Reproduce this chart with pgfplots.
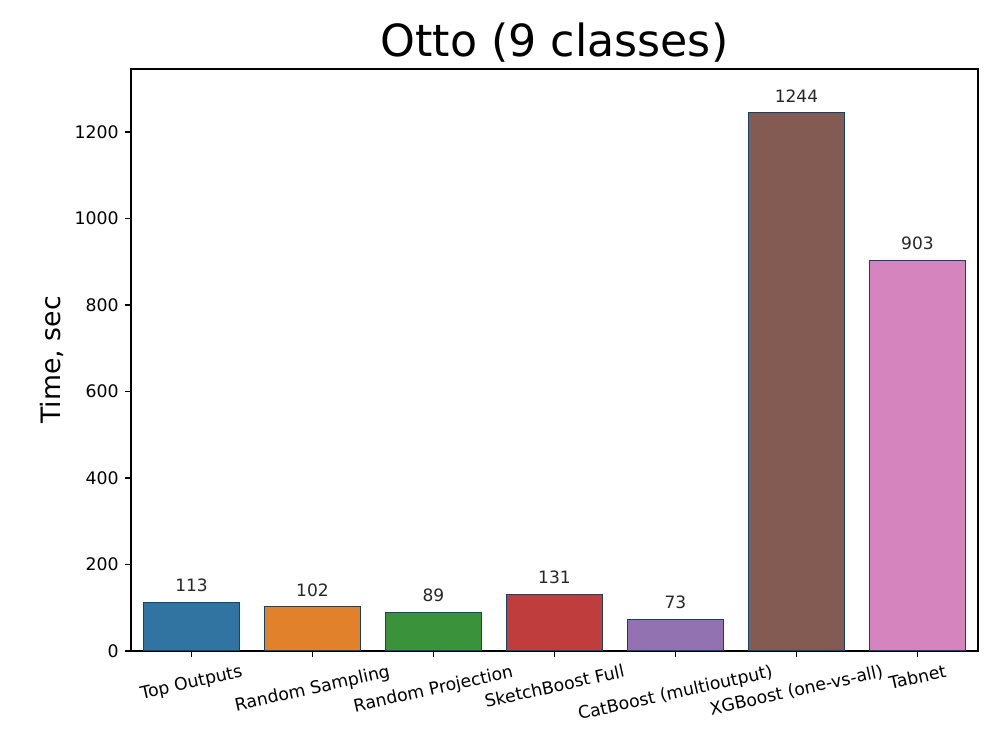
\documentclass[border=0pt]{standalone}
\usepackage{fontspec}
\setmainfont{DejaVu Sans}
\usepackage{graphicx}
\usepackage{pgfplots}
\pgfplotsset{compat=1.18}
\definecolor{c0}{RGB}{50,116,161}
\definecolor{c1}{RGB}{225,129,44}
\definecolor{c2}{RGB}{58,146,58}
\definecolor{c3}{RGB}{192,61,62}
\definecolor{c4}{RGB}{147,114,178}
\definecolor{c5}{RGB}{132,91,83}
\definecolor{c6}{RGB}{214,132,189}
\definecolor{edgec}{RGB}{16,68,108}
\definecolor{txt}{RGB}{38,38,38}
\begin{document}
\begin{tikzpicture}
\useasboundingbox (0,0) rectangle (722.7pt,529.0pt);
\begin{axis}[
  at={(94.67pt,58.54pt)}, anchor=south west,
  scale only axis, width=612.1pt, height=420.6pt,
  xmin=-0.5, xmax=6.5, ymin=0, ymax=1345.7,
  axis line style={line width=0.8pt},
  tick align=outside, major tick length=4.3pt,
  tick style={black, line width=0.8pt},
  xtick={0,1,2,3,4,5,6},
  xticklabels={\rotatebox{12.5}{Top Outputs},\rotatebox{12.5}{Random Sampling},\rotatebox{12.5}{Random Projection},\rotatebox{12.5}{SketchBoost Full},\rotatebox{12.5}{CatBoost (multioutput)},\rotatebox{12.5}{XGBoost (one-vs-all)},\rotatebox{12.5}{Tabnet}},
  ytick={0,200,400,600,800,1000,1200},
  xtick pos=bottom, ytick pos=left,
  /pgf/number format/assume math mode=true,
  /pgf/number format/1000 sep={},
  ticklabel style={font=\fontsize{12.5}{15}\selectfont},
  xticklabel style={inner sep=0pt, anchor=north, yshift=-5pt},
  yticklabel style={inner sep=0pt, anchor=east, xshift=-4.5pt},
  title={Otto (9 classes)},
  title style={font=\fontsize{32}{38}\selectfont, at={(axis description cs:0.5,1)}, anchor=base, yshift=3pt},
  ylabel={Time, sec},
  ylabel style={font=\fontsize{19.3}{23}\selectfont, at={(axis description cs:-0.0828,0.5)}, anchor=base, rotate=0},
  ybar, bar width=0.8, bar shift=0pt,
  every axis plot/.append style={draw=edgec, line width=0.75pt},
  nodes near coords,
  every node near coord/.append style={font=\fontsize{12.3}{14}\selectfont, text=txt, anchor=south, inner sep=0pt, yshift=7.2pt},
  point meta=explicit symbolic,
]
\addplot[fill=c0] coordinates {(0,113) [113]};
\addplot[fill=c1] coordinates {(1,102) [102]};
\addplot[fill=c2] coordinates {(2,89) [89]};
\addplot[fill=c3] coordinates {(3,131) [131]};
\addplot[fill=c4] coordinates {(4,73) [73]};
\addplot[fill=c5] coordinates {(5,1244) [1244]};
\addplot[fill=c6] coordinates {(6,903) [903]};
\end{axis}
\end{tikzpicture}
\end{document}
